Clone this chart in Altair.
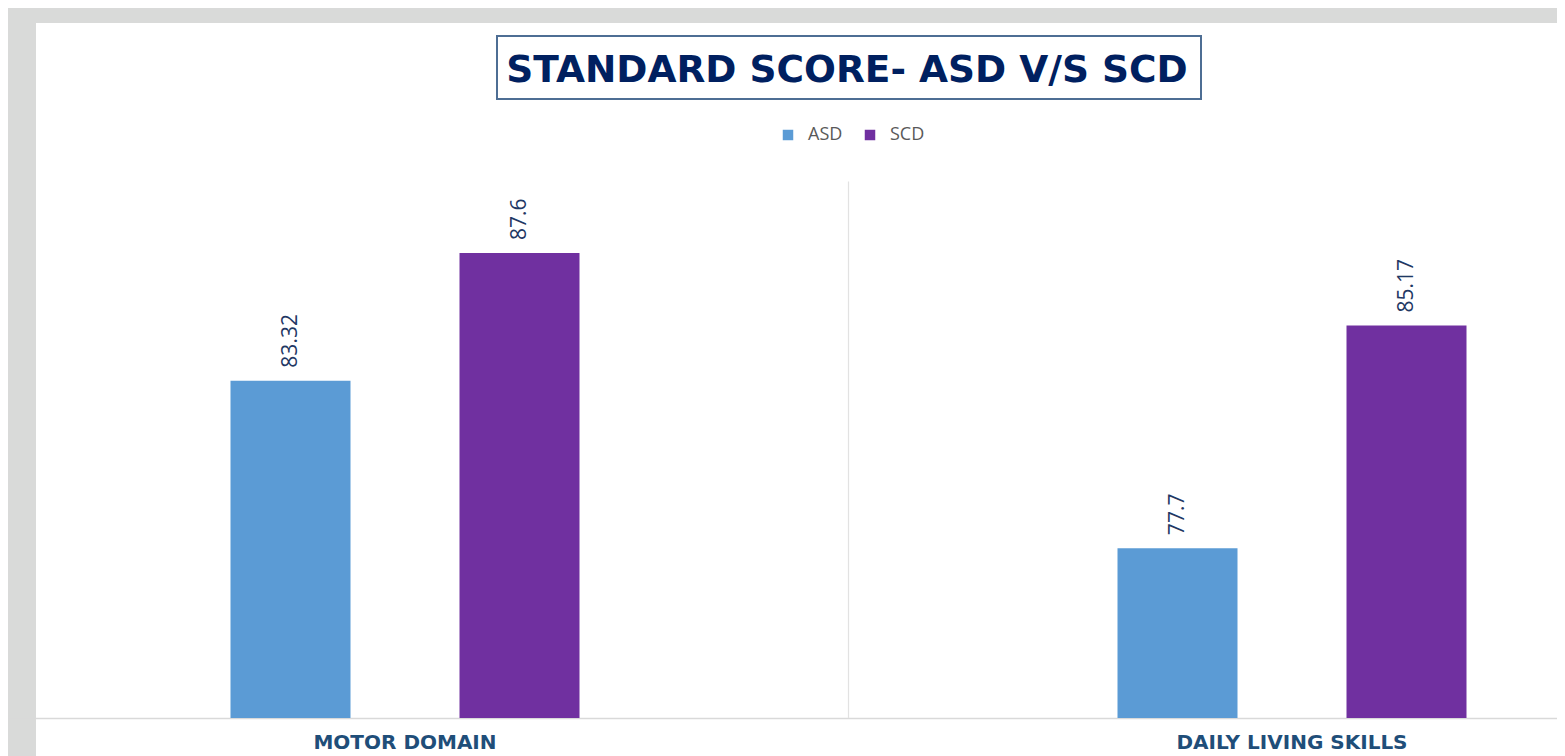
import altair as alt
import pandas as pd

categories = ["MOTOR DOMAIN", "DAILY LIVING SKILLS"]
groups = ["ASD", "SCD"]
asd_scores = [83.32, 77.7]
scd_scores = [87.6, 85.17]
asd_labels = ["83.32", "77.7"]
scd_labels = ["87.6", "85.17"]
colors = ["#5B9BD5", "#7030A0"]
title_text = "STANDARD SCORE- ASD V/S SCD"

rows = []
for i, c in enumerate(categories):
    rows.append({"cat": c, "grp": "ASD", "score": asd_scores[i], "lab": asd_labels[i]})
    rows.append({"cat": c, "grp": "SCD", "score": scd_scores[i], "lab": scd_labels[i]})
df = pd.DataFrame(rows)
cat_df = pd.DataFrame({"cat": categories})
one = pd.DataFrame({"t": [title_text]})

yscale = alt.Scale(domain=[70.725, 95.32], nice=False, zero=False)
xscale = alt.Scale(domain=categories, range=[-74.5, 1699.5], paddingInner=0, paddingOuter=0)
OFFS = {"ASD": -114.5, "SCD": 114.5}

base = alt.Chart(df)
X = alt.X("cat:N", scale=xscale, axis=None, sort=categories)
Y = alt.Y(
    "score:Q", scale=yscale,
    axis=alt.Axis(values=[72], grid=True, gridColor="#D9D9D9", gridWidth=1.6,
                  labels=False, ticks=False, domain=False, title=None),
)

sep = alt.Chart(cat_df).transform_filter(alt.datum.cat == categories[1]).mark_rule(
    color="#E2E2E2", strokeWidth=1.2
).encode(
    x=alt.X("cat:N", scale=xscale, axis=None, sort=categories, bandPosition=0),
    y=alt.datum(72), y2=alt.datum(90),
)

layers = [sep]
for g in groups:
    layers.append(
        base.transform_filter(alt.datum.grp == g).mark_bar(width=120, xOffset=OFFS[g]).encode(
            x=X, y=Y, y2=alt.datum(72),
            color=alt.Color(
                "grp:N",
                scale=alt.Scale(domain=groups, range=colors),
                legend=alt.Legend(
                    orient="none", legendX=743, legendY=103, direction="horizontal",
                    title=None, symbolType="square", symbolSize=110, symbolStrokeWidth=0,
                    labelFontSize=18, labelColor="#595959", labelFont="Open Sans",
                    columnPadding=18, labelOffset=11,
                ),
            ),
        )
    )
    layers.append(
        base.transform_filter(alt.datum.grp == g).mark_text(
            angle=270, align="left", baseline="middle", dx=13, xOffset=OFFS[g],
            font="Open Sans", fontSize=21, color="#1F3864",
        ).encode(x=X, y=Y, text="lab:N")
    )

cat_labels = alt.Chart(cat_df).mark_text(
    baseline="alphabetic", dy=31, font="DejaVu Sans", fontWeight="bold",
    fontSize=20, color="#1F4E79",
).encode(x=X, y=alt.datum(72), text="cat:N")

title_box = alt.Chart(one).mark_point(
    shape="M-1,-0.0895H1V0.0895H-1Z", size=495616, filled=False,
    stroke="#4E6E94", strokeWidth=2, opacity=1,
).encode(x=alt.value(813), y=alt.value(44.5))

title = alt.Chart(one).mark_text(
    font="DejaVu Sans", fontWeight="bold", fontSize=37.5, color="#002060",
    align="center", baseline="alphabetic",
).encode(x=alt.value(811), y=alt.value(59), text="t:N")

layers += [cat_labels, title_box, title]

chart = alt.layer(*layers).properties(
    width=1521, height=733,
    autosize=alt.AutoSizeParams(type="none"),
    padding={"left": 28, "top": 15, "right": 0, "bottom": 0},
    background="#D9DAD9",
).configure_view(stroke=None, fill="white")

chart.save("out.html", embed_options={"renderer": "svg", "actions": False})
